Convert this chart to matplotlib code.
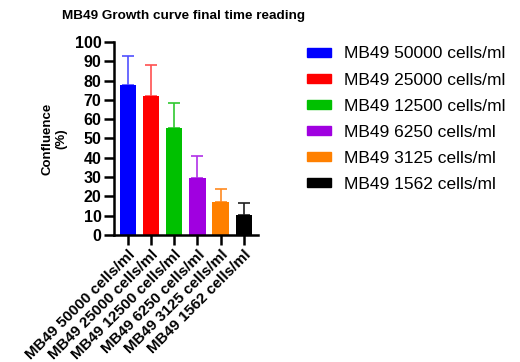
import matplotlib
matplotlib.use("Agg")
import matplotlib.pyplot as plt
from matplotlib.patches import Patch

plt.rcParams["font.family"] = ["Liberation Sans", "DejaVu Sans"]

labels = [
    "MB49 50000 cells/ml",
    "MB49 25000 cells/ml",
    "MB49 12500 cells/ml",
    "MB49 6250 cells/ml",
    "MB49 3125 cells/ml",
    "MB49 1562 cells/ml",
]
means = [77.5, 72.0, 55.5, 29.5, 17.0, 10.5]
errors = [15.0, 16.0, 13.0, 11.5, 7.0, 6.0]
colors = ["#0000ff", "#ff0000", "#00c000", "#a000e0", "#ff8000", "#000000"]
err_colors = ["#5050ff", "#ff5050", "#30c830", "#b030e8", "#ff8a20", "#202020"]

fig = plt.figure(figsize=(5.2, 3.62), dpi=100)
ax = fig.add_axes([0.219, 0.351, 0.277, 0.533])

x = list(range(len(labels)))
for i in x:
    ax.bar(i, means[i], width=0.7, color=colors[i], zorder=2)
    ax.errorbar(i, means[i], yerr=[[0], [errors[i]]], fmt="none",
                ecolor=err_colors[i], elinewidth=1.2, capsize=4, capthick=1.2,
                zorder=1)

ax.set_xlim(-0.62, 5.62)
ax.set_ylim(0, 100)
ax.set_yticks(range(0, 101, 10))
ax.set_xticks(x)
ax.set_xticklabels(labels, rotation=45, ha="right", rotation_mode="anchor",
                   fontsize=11, fontweight="bold")
for lab in ax.get_yticklabels():
    lab.set_fontweight("bold")
    lab.set_fontsize(11.5)
ax.tick_params(axis="both", width=1.8, length=7, pad=2)
for s in ["top", "right"]:
    ax.spines[s].set_visible(False)
for s in ["left", "bottom"]:
    ax.spines[s].set_linewidth(1.8)

ax.set_ylabel("Confluence\n(%)", fontsize=9.5, fontweight="bold", labelpad=5)

fig.text(0.12, 0.955, "MB49 Growth curve final time reading", fontsize=9.7,
         fontweight="bold", ha="left", va="center")

handles = [Patch(facecolor=c, edgecolor=c) for c in colors]
fig.legend(handles, labels, loc="upper left", bbox_to_anchor=(0.56, 0.915),
           frameon=False, fontsize=12.5, handlelength=1.4, handleheight=0.45,
           labelspacing=0.64, handletextpad=0.75)

fig.savefig("out.png", dpi=100)
